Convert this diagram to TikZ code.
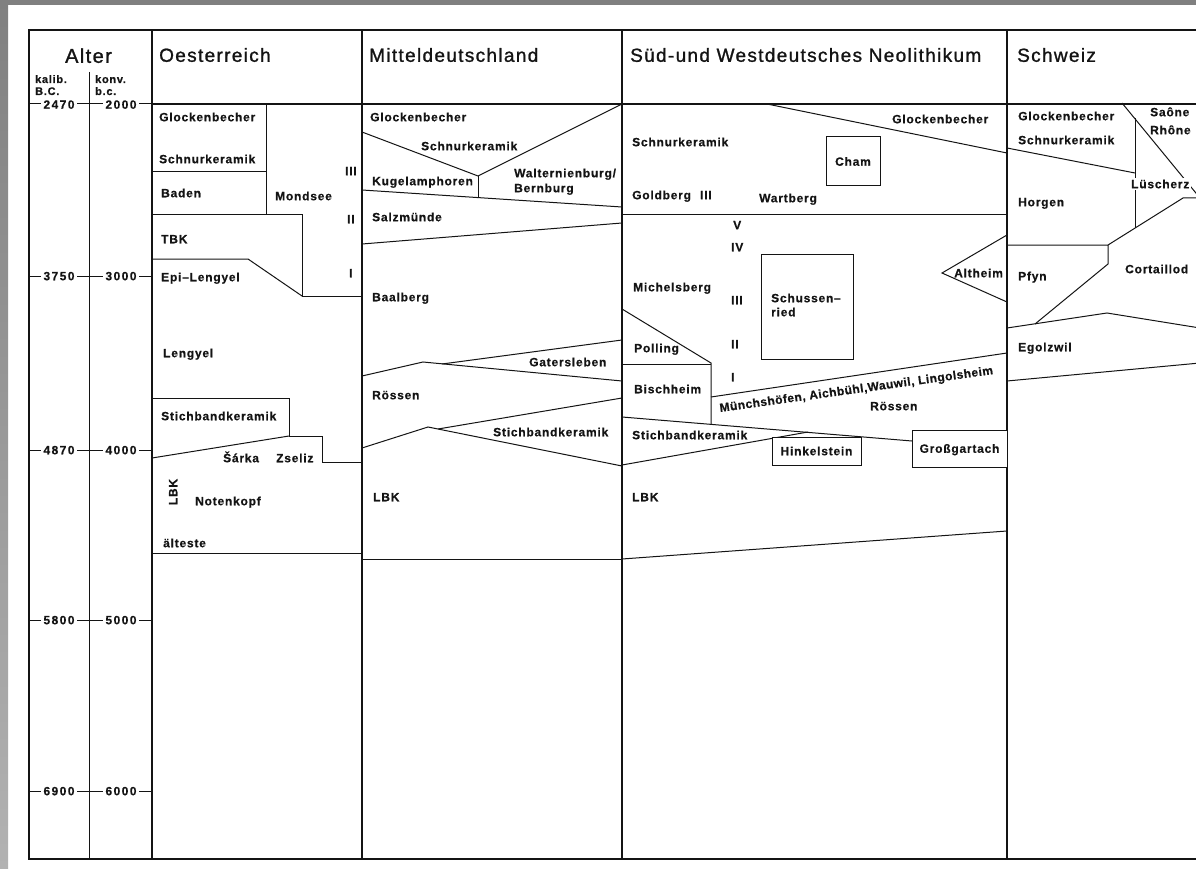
\documentclass[tikz,border=0pt]{standalone}
\usepackage{fontspec}
\setmainfont{Liberation Sans}
\newfontfamily\labfont[LetterSpace=6.5,FakeBold=0.4]{Liberation Sans}
\newfontfamily\mlabfont[LetterSpace=4,FakeBold=0.4]{Liberation Sans}
\newfontfamily\headfont[LetterSpace=7,FakeBold=1.2]{Liberation Sans}
\newfontfamily\numfont[LetterSpace=12,FakeBold=0.4]{Liberation Sans}
\definecolor{bordergray}{RGB}{128,128,128}
\definecolor{bordergraylight}{RGB}{178,178,178}
\definecolor{ink}{RGB}{20,20,20}
\begin{document}
\begin{tikzpicture}[x=1pt,y=-1pt,
  outer/.style={line width=1.4pt, draw=ink},
  ln/.style={line width=1pt, line join=miter, draw=ink},
  lab/.style={font=\labfont\bfseries\fontsize{12}{14}\selectfont, text=ink, inner sep=0pt, anchor=west, text height=8.5pt, text depth=0pt},
  boxlab/.style={lab, anchor=center, draw=ink, line width=1pt},
  gaplab/.style={lab, fill=white, inner sep=2pt},
  headlab/.style={font=\headfont\fontsize{19}{22}\selectfont, text=ink, inner sep=0pt, anchor=west, text height=13.6pt, text depth=0pt},
  sublab/.style={font=\labfont\bfseries\fontsize{11}{13}\selectfont, text=ink, inner sep=0pt, anchor=west, text height=8pt, text depth=0pt},
  ticklab/.style={font=\numfont\bfseries\fontsize{12}{14}\selectfont, text=ink, fill=white, inner xsep=2.5pt, inner ysep=1pt, text height=8.5pt, text depth=0pt},
]
\useasboundingbox (0,0) rectangle (1196,869);
\fill[white] (0,0) rectangle (1196,869);
\fill[bordergray] (0,0) rectangle (1196,5);
\shade[top color=bordergray, bottom color=bordergraylight] (0,0) rectangle (8,869);

% frame and columns
\draw[outer] (1200,30) -- (29,30) -- (29,859) -- (1200,859);
\draw[outer] (152,30) -- (152,859);
\draw[outer] (362,30) -- (362,859);
\draw[outer] (622,30) -- (622,859);
\draw[outer] (1007,30) -- (1007,859);
\draw[ln] (89,72) -- (89,859);
\draw[outer] (152,104) -- (1200,104);

% ticks
\foreach \yy in {104,276,450,620,791} { \draw[ln] (29,\yy) -- (152,\yy); }
\node[ticklab] (k1) at (59,104.5) {2470};
\node[ticklab] (c1) at (121,104.5) {2000};
\node[ticklab] (k2) at (59,276) {3750};
\node[ticklab] (c2) at (121,276) {3000};
\node[ticklab] (k3) at (59,450) {4870};
\node[ticklab] (c3) at (121,450) {4000};
\node[ticklab] (k4) at (59,620) {5800};
\node[ticklab] (c4) at (121,620) {5000};
\node[ticklab] (k5) at (59,791) {6900};
\node[ticklab] (c5) at (121,791) {6000};

% headers
\node[headlab, anchor=center, font=\headfont\fontsize{20}{22}\selectfont] (alter) at (88.5,56) {Alter};
\node[sublab] (kalib) at (35,79) {kalib.};
\node[sublab] (bc) at (35,91) {B.C.};
\node[sublab] (konv) at (95,79) {konv.};
\node[sublab] (bc2) at (95,91) {b.c.};
\node[headlab] (hoe) at (159,55) {Oesterreich};
\node[headlab] (hmd) at (369,55) {Mitteldeutschland};
\node[headlab] (hsw) at (630,55) {Süd-und Westdeutsches Neolithikum};
\node[headlab] (hch) at (1017,55) {Schweiz};

% ---------- Oesterreich
\draw[ln] (152,172) -- (266,172);
\draw[ln] (266,104) -- (266,214);
\draw[ln] (152,214) -- (302,214) -- (302,296) -- (362,296);
\draw[ln] (152,259) -- (248,259) -- (302,296);
\draw[ln] (152,398) -- (289,398) -- (289,436) -- (322,436) -- (322,462) -- (362,462);
\draw[ln] (152,458) -- (289,436);
\draw[ln] (152,553) -- (362,553);
\node[lab] (oe1) at (159,117) {Glockenbecher};
\node[lab] (oe2) at (159,159) {Schnurkeramik};
\node[lab] (oe3) at (161,193) {Baden};
\node[lab] (oe4) at (275,196) {Mondsee};
\node[lab] (oe5) at (345,171) {III};
\node[lab] (oe6) at (347,219) {II};
\node[lab] (oe7) at (349,273) {I};
\node[lab] (oe8) at (161,239) {TBK};
\node[lab] (oe9) at (161,277) {Epi–Lengyel};
\node[lab] (oe10) at (163,353) {Lengyel};
\node[lab] (oe11) at (161,416) {Stichbandkeramik};
\node[lab] (oe12) at (223,458) {Šárka};
\node[lab] (oe13) at (276,458) {Zseliz};
\node[lab, anchor=center, rotate=90] (oe14) at (173,492) {LBK};
\node[lab] (oe15) at (195,501) {Notenkopf};
\node[lab] (oe16) at (163,543) {älteste};

% ---------- Mitteldeutschland
\draw[ln] (362,132) -- (478,176) -- (622,104);
\draw[ln] (478,176) -- (478,198);
\draw[ln] (362,190) -- (622,207);
\draw[ln] (362,244) -- (622,223);
\draw[ln] (362,376) -- (423,362) -- (622,381);
\draw[ln] (442,364) -- (622,340);
\draw[ln] (362,448) -- (428,427) -- (622,466);
\draw[ln] (438,429) -- (622,398);
\draw[ln] (362,559) -- (622,559);
\node[lab] (md1) at (370,117) {Glockenbecher};
\node[lab] (md2) at (421,146) {Schnurkeramik};
\node[lab] (md3) at (372,181) {Kugelamphoren};
\node[lab] (md4) at (514,173) {Walternienburg/};
\node[lab] (md5) at (514,188) {Bernburg};
\node[lab] (md6) at (372,217) {Salzmünde};
\node[lab] (md7) at (372,297) {Baalberg};
\node[lab] (md8) at (529,362) {Gatersleben};
\node[lab] (md9) at (372,395) {Rössen};
\node[lab] (md10) at (493,432) {Stichbandkeramik};
\node[lab] (md11) at (373,497) {LBK};

% ---------- Sued und West
\draw[ln] (767,104) -- (1007,153);
\draw[ln] (622,214) -- (1007,214);
\draw[ln] (761,254) rectangle (853,359);
\draw[ln] (1007,235) -- (942,273) -- (1007,302);
\draw[ln] (622,309) -- (711,363) -- (711,424);
\draw[ln] (622,364) -- (711,364);
\draw[ln] (711,397) -- (1007,353);
\draw[ln] (622,417) -- (912,441);
\draw[ln] (622,465) -- (808,432);
\draw[ln] (622,559) -- (1007,531);
\node[boxlab, minimum width=54pt, minimum height=49pt] (cham) at (853,161.5) {Cham};
\node[boxlab, minimum width=89pt, minimum height=28pt, fill=white] (hink) at (816.5,451) {Hinkelstein};
\node[boxlab, minimum width=95pt, minimum height=37pt, fill=white] (gross) at (959.5,448.5) {Großgartach};
\node[lab] (sw1) at (892,119) {Glockenbecher};
\node[lab] (sw2) at (632,142) {Schnurkeramik};
\node[lab] (sw3) at (632,195) {Goldberg\hspace{5pt} III};
\node[lab] (sw4) at (759,198) {Wartberg};
\node[lab] (sw5) at (733,225) {V};
\node[lab] (sw6) at (731,247) {IV};
\node[lab] (sw7) at (731,300) {III};
\node[lab] (sw8) at (731,344) {II};
\node[lab] (sw9) at (731,377) {I};
\node[lab] (sw10) at (633,287) {Michelsberg};
\node[lab] (sw11) at (771,298) {Schussen–};
\node[lab] (sw12) at (771,312) {ried};
\node[lab] (sw13) at (954,273) {Altheim};
\node[lab] (sw14) at (634,348) {Polling};
\node[lab] (sw15) at (634,389) {Bischheim};
\node[lab, font=\mlabfont\bfseries\fontsize{12}{14}\selectfont, anchor=base west, rotate=7.9] (sw16) at (720,412) {Münchshöfen, Aichbühl,Wauwil, Lingolsheim};
\node[lab] (sw17) at (870,406) {Rössen};
\node[lab] (sw18) at (632,435) {Stichbandkeramik};
\node[lab] (sw19) at (632,497) {LBK};

% ---------- Schweiz
\draw[ln] (1007,148) -- (1135,173);
\draw[ln] (1135,118) -- (1135,228);
\draw[ln] (1122,103) -- (1200,198);
\draw[ln] (1007,245) -- (1108,245) -- (1108,264) -- (1035,324);
\draw[ln] (1108,245) -- (1183,198) -- (1200,198);
\draw[ln] (1007,328) -- (1107,313) -- (1200,328);
\draw[ln] (1007,381) -- (1200,363);
\node[lab] (ch1) at (1018,116) {Glockenbecher};
\node[lab] (ch2) at (1018,140) {Schnurkeramik};
\node[lab] (ch3) at (1150,112) {Saône};
\node[lab] (ch4) at (1150,130) {Rhône};
\node[gaplab] (ch5) at (1129,184) {Lüscherz};
\node[lab] (ch6) at (1018,202) {Horgen};
\node[lab] (ch7) at (1018,276) {Pfyn};
\node[lab] (ch8) at (1125,269) {Cortaillod};
\node[lab] (ch9) at (1018,347) {Egolzwil};
\end{tikzpicture}
\end{document}
